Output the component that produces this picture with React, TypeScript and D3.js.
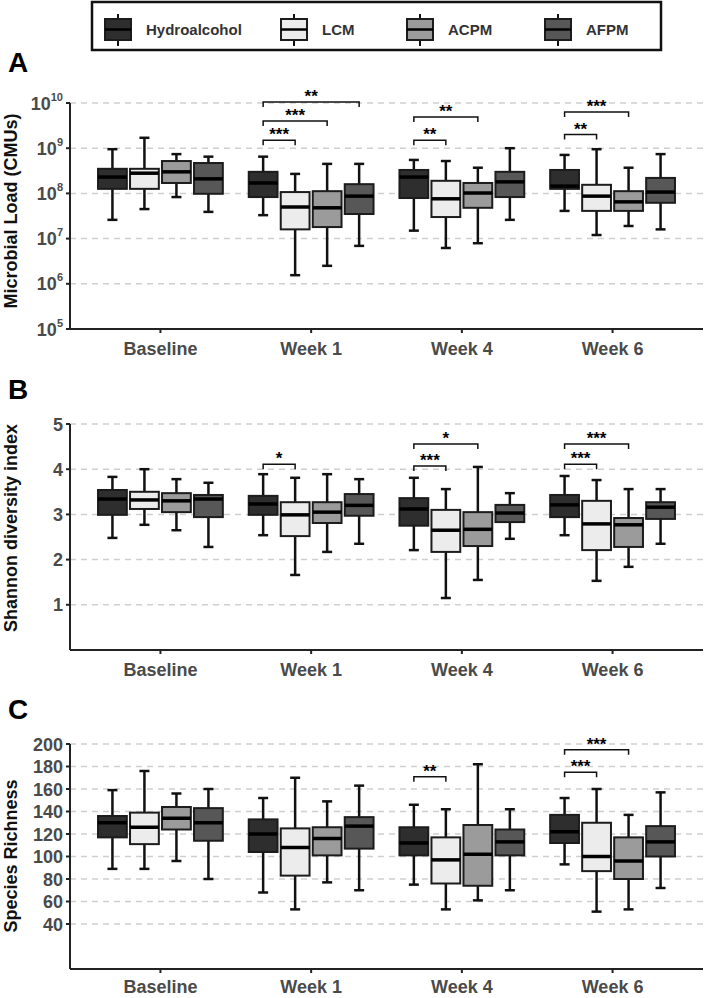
import React from "react";
import * as d3 from "d3";

const categories = ["Baseline", "Week 1", "Week 4", "Week 6"];
const groups = ["Hydroalcohol", "LCM", "ACPM", "AFPM"];
const groupColors = ["#2e2e2e", "#ececec", "#9b9b9b", "#575757"];

// [low whisker, Q1, median, Q3, high whisker] per category
const loadHydro = [[2.6e7, 1.26e8, 2.3e8, 3.5e8, 9.5e8], [3.3e7, 8.3e7, 1.7e8, 3.0e8, 6.5e8], [1.5e7, 7.9e7, 2.3e8, 3.3e8, 5.5e8], [4.1e7, 1.26e8, 1.45e8, 3.3e8, 7.1e8]];
const loadLCM = [[4.5e7, 1.26e8, 2.8e8, 3.5e8, 1.7e9], [1.55e6, 1.6e7, 5.0e7, 1.07e8, 2.7e8], [6.2e6, 3.0e7, 7.6e7, 1.9e8, 5.2e8], [1.2e7, 4.1e7, 8.7e7, 1.55e8, 9.5e8]];
const loadACPM = [[8.3e7, 1.7e8, 3.0e8, 5.2e8, 7.4e8], [2.5e6, 1.8e7, 4.8e7, 1.12e8, 4.5e8], [7.9e6, 4.8e7, 1.02e8, 1.7e8, 3.7e8], [1.9e7, 4.1e7, 6.5e7, 1.12e8, 3.7e8]];
const loadAFPM = [[3.9e7, 9.8e7, 2.1e8, 4.7e8, 6.5e8], [6.9e6, 3.5e7, 8.7e7, 1.6e8, 4.5e8], [2.6e7, 8.3e7, 1.8e8, 3.0e8, 1.0e9], [1.6e7, 6.2e7, 1.07e8, 2.2e8, 7.4e8]];

const shannonHydro = [[2.48, 2.99, 3.34, 3.54, 3.83], [2.54, 2.99, 3.23, 3.41, 3.89], [2.21, 2.75, 3.12, 3.36, 3.81], [2.54, 2.94, 3.21, 3.43, 3.85]];
const shannonLCM = [[2.77, 3.12, 3.32, 3.5, 4.0], [1.66, 2.52, 2.99, 3.27, 3.81], [1.15, 2.17, 2.65, 3.1, 3.56], [1.53, 2.21, 2.79, 3.3, 3.76]];
const shannonACPM = [[2.65, 3.05, 3.3, 3.47, 3.78], [2.17, 2.81, 3.05, 3.27, 3.89], [1.55, 2.3, 2.67, 3.05, 4.05], [1.84, 2.28, 2.77, 2.92, 3.56]];
const shannonAFPM = [[2.28, 2.94, 3.34, 3.43, 3.7], [2.35, 2.97, 3.2, 3.45, 3.78], [2.46, 2.83, 3.03, 3.21, 3.47], [2.35, 2.9, 3.16, 3.27, 3.56]];

const richHydro = [[89, 117, 130, 136, 159], [68, 104, 120, 133, 152], [75, 101, 112, 126, 146], [93, 112, 122, 137, 152]];
const richLCM = [[89, 111, 126, 139, 176], [53, 83, 108, 125, 170], [53, 76, 97, 117, 142], [51, 87, 100, 130, 160]];
const richACPM = [[96, 124, 134, 144, 156], [77, 101, 116, 126, 149], [61, 74, 102, 128, 182], [53, 80, 96, 117, 137]];
const richAFPM = [[80, 114, 130, 143, 160], [70, 107, 127, 135, 163], [70, 101, 113, 124, 142], [72, 100, 113, 127, 157]];

const loadTicks = [1e5, 1e6, 1e7, 1e8, 1e9, 1e10];
const shannonTicks = [1, 2, 3, 4, 5];
const richTicks = [40, 60, 80, 100, 120, 140, 160, 180, 200];

const sigA = [
  { cat: "Week 1", to: 1, y: 1.5e9, label: "***" },
  { cat: "Week 1", to: 2, y: 4.0e9, label: "***" },
  { cat: "Week 1", to: 3, y: 1.05e10, label: "**" },
  { cat: "Week 4", to: 1, y: 1.5e9, label: "**" },
  { cat: "Week 4", to: 2, y: 4.9e9, label: "**" },
  { cat: "Week 6", to: 1, y: 2.0e9, label: "**" },
  { cat: "Week 6", to: 2, y: 6.3e9, label: "***" },
];
const sigB = [
  { cat: "Week 1", to: 1, y: 4.11, label: "*" },
  { cat: "Week 4", to: 1, y: 4.07, label: "***" },
  { cat: "Week 4", to: 2, y: 4.56, label: "*" },
  { cat: "Week 6", to: 1, y: 4.11, label: "***" },
  { cat: "Week 6", to: 2, y: 4.56, label: "***" },
];
const sigC = [
  { cat: "Week 4", to: 1, y: 171, label: "**" },
  { cat: "Week 6", to: 1, y: 175, label: "***" },
  { cat: "Week 6", to: 2, y: 195, label: "***" },
];

const FONT = "'Liberation Sans', Arial, sans-serif";
const axisX = 70;
const rightX = 703;
const x = d3.scalePoint<string>().domain(categories).range([axisX, rightX]).padding(0.6);
const xg = d3.scaleBand<string>().domain(groups).range([-64, 64]);
const boxW = xg.bandwidth() * 0.9;

type Sig = { cat: string; to: number; y: number; label: string };

function Panel(props: {
  y: any;
  series: number[][][];
  ticks: number[];
  renderTick: (t: number) => React.ReactNode;
  gridTicks: number[];
  sigs: Sig[];
  letter: string;
  letterY: number;
  title: string;
  titleY: number;
  labelOffset: number;
}) {
  const { y, series, ticks, renderTick, gridTicks, sigs, letter, letterY, title, titleY, labelOffset } = props;
  const [y0, yTop] = y.range();
  return (
    <g>
      <text x={8} y={letterY} fontFamily={FONT} fontWeight="bold" fontSize={28} fill="#000">{letter}</text>
      {gridTicks.map((t) => (
        <line key={"g" + t} x1={axisX} x2={rightX} y1={y(t)} y2={y(t)} stroke="#cfcfcf" strokeWidth={1.5} strokeDasharray="6,5" />
      ))}
      {series.map((s, gi) =>
        s.map((d, ci) => {
          const cx = (x(categories[ci]) as number) + (xg(groups[gi]) as number) + xg.bandwidth() / 2;
          const [lo, q1, med, q3, hi] = d;
          return (
            <g key={gi + "-" + ci}>
              <line x1={cx} x2={cx} y1={y(hi)} y2={y(lo)} stroke="#111" strokeWidth={2.5} />
              <line x1={cx - 5} x2={cx + 5} y1={y(hi)} y2={y(hi)} stroke="#111" strokeWidth={2.5} />
              <line x1={cx - 5} x2={cx + 5} y1={y(lo)} y2={y(lo)} stroke="#111" strokeWidth={2.5} />
              <rect x={cx - boxW / 2} y={y(q3)} width={boxW} height={y(q1) - y(q3)} fill={groupColors[gi]} stroke="#1c1c1c" strokeWidth={2} />
              <line x1={cx - boxW / 2} x2={cx + boxW / 2} y1={y(med)} y2={y(med)} stroke="#000" strokeWidth={3.5} />
            </g>
          );
        })
      )}
      {sigs.map((s, i) => {
        const base = x(s.cat) as number;
        const x1 = base + (xg(groups[0]) as number) + xg.bandwidth() / 2;
        const x2 = base + (xg(groups[s.to]) as number) + xg.bandwidth() / 2;
        const yy = y(s.y);
        return (
          <g key={"s" + i}>
            <path d={`M${x1},${yy + 5}V${yy}H${x2}V${yy + 5}`} fill="none" stroke="#111" strokeWidth={1.5} />
            <text x={(x1 + x2) / 2} y={yy} textAnchor="middle" fontFamily={FONT} fontWeight="bold" fontSize={17} fill="#000">{s.label}</text>
          </g>
        );
      })}
      <line x1={axisX} x2={axisX} y1={yTop} y2={y0} stroke="#222" strokeWidth={2} />
      <line x1={axisX} x2={rightX} y1={y0} y2={y0} stroke="#222" strokeWidth={2} />
      {ticks.map((t) => (
        <g key={"t" + t}>
          <line x1={axisX - 4} x2={axisX} y1={y(t)} y2={y(t)} stroke="#222" strokeWidth={2} />
          <text x={axisX - 7} y={y(t) + 6.5} textAnchor="end" fontFamily={FONT} fontWeight="bold" fontSize={18} fill="#4a4a4a">{renderTick(t)}</text>
        </g>
      ))}
      {categories.map((c) => (
        <g key={"x" + c}>
          <line x1={x(c)} x2={x(c)} y1={y0} y2={y0 + 4} stroke="#222" strokeWidth={2} />
          <text x={x(c)} y={y0 + labelOffset} textAnchor="middle" fontFamily={FONT} fontWeight="bold" fontSize={18} fill="#4a4a4a">{c}</text>
        </g>
      ))}
      <text transform={`translate(17,${titleY}) rotate(-90)`} textAnchor="middle" fontFamily={FONT} fontWeight="bold" fontSize={18} fill="#111">{title}</text>
    </g>
  );
}

export default function App() {
  const yA = d3.scaleLog().domain([1e5, 1e10]).range([329, 103]);
  const yB = d3.scaleLinear().domain([0, 5]).range([650, 424]);
  const yC = d3.scaleLinear().domain([0, 200]).range([969, 744]);
  const legendKeys = [105, 281, 407, 545];
  return (
    <svg width={708} height={998} style={{ position: "absolute", left: 0, top: 0, background: "#fff" }}>
      <rect x={0} y={0} width={708} height={998} fill="#fff" />
      <rect x={92} y={2} width={569} height={48} fill="none" stroke="#111" strokeWidth={2.5} />
      {groups.map((g, i) => (
        <g key={g}>
          <line x1={legendKeys[i] + 13} x2={legendKeys[i] + 13} y1={14} y2={46} stroke="#111" strokeWidth={2} />
          <rect x={legendKeys[i]} y={19} width={26} height={21} fill={groupColors[i]} stroke="#1c1c1c" strokeWidth={2} />
          <line x1={legendKeys[i]} x2={legendKeys[i] + 26} y1={29.5} y2={29.5} stroke="#000" strokeWidth={2.5} />
          <text x={legendKeys[i] + 41} y={35} fontFamily={FONT} fontWeight="bold" fontSize={15} fill="#333">{g}</text>
        </g>
      ))}
      <Panel
        y={yA}
        series={[loadHydro, loadLCM, loadACPM, loadAFPM]}
        ticks={loadTicks}
        renderTick={(t) => (
          <>
            10<tspan dy={-9} fontSize={11}>{Math.round(Math.log10(t))}</tspan>
          </>
        )}
        gridTicks={loadTicks.slice(1)}
        sigs={sigA}
        letter="A"
        letterY={72}
        title="Microbial Load (CMUs)"
        titleY={211}
        labelOffset={26}
      />
      <Panel
        y={yB}
        series={[shannonHydro, shannonLCM, shannonACPM, shannonAFPM]}
        ticks={shannonTicks}
        renderTick={(t) => String(t)}
        gridTicks={shannonTicks}
        sigs={sigB}
        letter="B"
        letterY={399}
        title="Shannon diversity index"
        titleY={528}
        labelOffset={26}
      />
      <Panel
        y={yC}
        series={[richHydro, richLCM, richACPM, richAFPM]}
        ticks={richTicks}
        renderTick={(t) => String(t)}
        gridTicks={richTicks}
        sigs={sigC}
        letter="C"
        letterY={719}
        title="Species Richness"
        titleY={856}
        labelOffset={24}
      />
    </svg>
  );
}
